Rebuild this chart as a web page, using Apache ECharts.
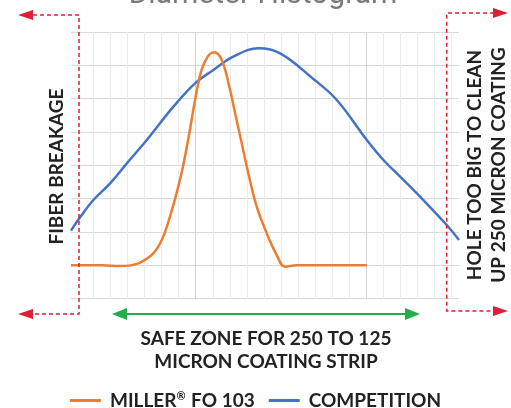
<!DOCTYPE html>
<html>
<head>
<meta charset="UTF-8">
<title>Diameter Histogram</title>
<script src="https://cdn.jsdelivr.net/npm/echarts@6/dist/echarts.min.js"></script>
<style>
  html, body { margin: 0; padding: 0; background: #fff; }
</style>
</head>
<body>
    <div id="main" style="width: 511px;height:408px;"></div>

    <script type="text/javascript">
    // x positions are in gridline steps, y in horizontal gridline steps
    var millerX = [-1.31, 0.5, 1.56, 2.2, 2.74, 3.51, 4.01, 4.39, 4.79, 5.18, 5.55, 6.23, 6.64, 7.07, 7.52, 8.01, 8.30, 8.65, 9.08, 9.57, 10.16, 10.74, 11.23, 11.92, 14.0, 16.02];
    var millerY = [1.0, 1.0, 0.98, 1.0, 1.08, 1.36, 1.76, 2.3, 3.0, 3.8, 4.76, 6.66, 7.21, 7.39, 7.16, 6.26, 5.57, 4.76, 3.76, 2.76, 1.96, 1.31, 0.96, 1.0, 1.0, 1.0];

    var competitionX = [-1.31, -0.78, 0, 0.98, 1.96, 3.13, 4.69, 6.0, 7.03, 8.2, 9.67, 10.94, 12.89, 14.26, 16.02, 16.99, 17.97, 19.33, 20.70, 21.42];
    var competitionY = [2.04, 2.44, 2.96, 3.46, 4.06, 4.76, 5.76, 6.48, 6.86, 7.26, 7.51, 7.36, 6.59, 5.96, 4.76, 4.16, 3.66, 2.96, 2.21, 1.76];

    var seriesNames = ['MILLER® FO 103', 'COMPETITION'];
    var verticalLines = 21;   // gridline steps in the vertical grid
    var majorLines = [6, 16];

    var font = 'Lato';
    var red = '#dc1f36';
    var green = '#22ad4a';

    function pairs(xs, ys) {
        return xs.map(function (x, i) { return [x, ys[i]]; });
    }

    var lineColors = [];
    for (var i = 0; i <= verticalLines; i++) {
        lineColors.push(majorLines.indexOf(i) >= 0 ? '#d4d4d4' : '#ececec');
    }

    var myChart = echarts.init(document.getElementById('main'));

    var option = {
        animation: false,
        grid: [
            { left: 71, top: 32, width: 388, height: 266.7 },
            { left: 93.3, top: 32, width: 358.4, height: 266.7 }
        ],
        xAxis: [
            { gridIndex: 0, type: 'value', min: -1.31, max: 21.42,
              axisLine: { show: false }, axisTick: { show: false }, axisLabel: { show: false }, splitLine: { show: false } },
            { gridIndex: 1, type: 'value', min: 0, max: verticalLines, interval: 1,
              axisLine: { show: false }, axisTick: { show: false }, axisLabel: { show: false },
              splitLine: { show: true, lineStyle: { color: lineColors, width: 1 } } }
        ],
        yAxis: [
            { gridIndex: 0, type: 'value', min: 0, max: 8, interval: 1,
              axisLine: { show: false }, axisTick: { show: false }, axisLabel: { show: false },
              splitLine: { show: true, lineStyle: { color: '#d9d9d9', width: 1 } } },
            { gridIndex: 1, type: 'value', min: 0, max: 8, show: false, splitLine: { show: false } }
        ],
        legend: {
            top: 386,
            left: 'center',
            icon: 'rect',
            itemWidth: 31,
            itemHeight: 3,
            itemGap: 14,
            formatter: function (name) {
                return name.replace('®', '{s|®}');
            },
            textStyle: {
                fontFamily: font, fontWeight: 'bold', fontSize: 19, color: '#222', padding: [0, 0, 0, 4],
                rich: { s: { fontFamily: font, fontWeight: 'bold', fontSize: 11, color: '#222', padding: [0, 1, 8, 0] } }
            },
            data: seriesNames
        },
        series: [
            {
                name: seriesNames[0],
                type: 'line',
                xAxisIndex: 0, yAxisIndex: 0,
                smooth: 0.4,
                symbol: 'none',
                lineStyle: { color: '#ed7d31', width: 2.5 },
                itemStyle: { color: '#ed7d31' },
                z: 3,
                data: pairs(millerX, millerY)
            },
            {
                name: seriesNames[1],
                type: 'line',
                xAxisIndex: 0, yAxisIndex: 0,
                smooth: 0.4,
                symbol: 'none',
                lineStyle: { color: '#4472c4', width: 2.5 },
                itemStyle: { color: '#4472c4' },
                z: 2,
                data: pairs(competitionX, competitionY)
            }
        ],
        graphic: [
            // title, mostly cut off by the top edge
            { type: 'text', x: 263, y: -5, style: { text: 'Diameter Histogram', fill: '#7a7a7a',
              font: '30px Roboto', align: 'center', verticalAlign: 'middle' } },

            // left red markers
            { type: 'polyline', shape: { points: [[33, 15], [79, 15], [79, 314], [33, 314]] },
              style: { stroke: red, lineWidth: 1.5, lineDash: [4, 3], fill: null }, z: 10 },
            { type: 'polygon', shape: { points: [[18, 15], [33, 10], [33, 20]] }, style: { fill: red }, z: 10 },
            { type: 'polygon', shape: { points: [[18, 314], [33, 309], [33, 319]] }, style: { fill: red }, z: 10 },

            // right red markers
            { type: 'polyline', shape: { points: [[494, 13], [446.7, 13], [446.7, 311], [494, 311]] },
              style: { stroke: red, lineWidth: 1.5, lineDash: [4, 3], fill: null }, z: 10 },
            { type: 'polygon', shape: { points: [[508, 13], [493, 8], [493, 18]] }, style: { fill: red }, z: 10 },
            { type: 'polygon', shape: { points: [[508, 311], [493, 306], [493, 316]] }, style: { fill: red }, z: 10 },

            // green safe zone arrow
            { type: 'line', shape: { x1: 125, y1: 314, x2: 407, y2: 314 }, style: { stroke: green, lineWidth: 2 }, z: 10 },
            { type: 'polygon', shape: { points: [[112, 314], [127, 308], [127, 320]] }, style: { fill: green }, z: 10 },
            { type: 'polygon', shape: { points: [[420, 314], [405, 308], [405, 320]] }, style: { fill: green }, z: 10 },

            { type: 'text', x: 266, y: 350, style: { text: 'SAFE ZONE FOR 250 TO 125\nMICRON COATING STRIP',
              fill: '#222', font: 'bold 19px ' + font, lineHeight: 23, align: 'center', verticalAlign: 'middle' } },

            // side labels
            { type: 'text', x: 57, y: 166.5, rotation: Math.PI / 2, style: { text: 'FIBER BREAKAGE',
              fill: '#222', font: 'bold 19px ' + font, align: 'center', verticalAlign: 'middle' } },
            { type: 'text', x: 487, y: 165, rotation: Math.PI / 2, style: { text: 'HOLE TOO BIG TO CLEAN\nUP 250 MICRON COATING',
              fill: '#222', font: 'bold 19px ' + font, lineHeight: 24, align: 'center', verticalAlign: 'middle' } }
        ]
    };

    myChart.setOption(option);
    </script>
</body>
</html>
